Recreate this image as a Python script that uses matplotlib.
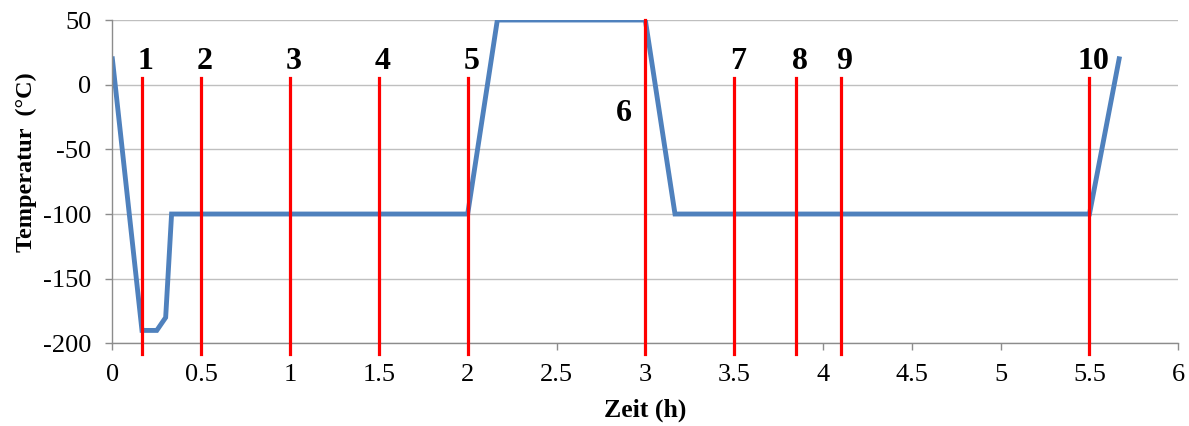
import matplotlib
matplotlib.use("Agg")
from matplotlib import pyplot as plt

# Temperaturverlauf
zeit = [0, 1/6, 0.25, 0.3, 1/3, 2, 2.167, 3, 3.167, 5.5, 5.667]
temp = [20, -190, -190, -180, -100, -100, 50, 50, -100, -100, 20]

# Messpunkte (rote Linien)
mess_x = [1/6, 0.5, 1, 1.5, 2, 3, 3.5, 3.85, 4.1, 5.5]
mess_lbl = ['1', '2', '3', '4', '5', '6', '7', '8', '9', '10']
mess_top = [5, 5, 5, 5, 5, 50, 5, 5, 5, 5]

x_ticks = [0, 0.5, 1, 1.5, 2, 2.5, 3, 3.5, 4, 4.5, 5, 5.5, 6]
x_tick_lbl = ['0', '0.5', '1', '1.5', '2', '2.5', '3', '3.5', '4', '4.5', '5', '5.5', '6']
y_ticks = [-200, -150, -100, -50, 0, 50]

plt.rcParams['font.family'] = ['Liberation Serif', 'DejaVu Serif']
plt.rcParams['axes.unicode_minus'] = False

fig = plt.figure(dpi=100, figsize=(11.89, 4.26))
ax = fig.add_axes([0.0945, 0.194, 0.8965, 0.759])

grid_c = '#BFBFBF'
axis_c = '#8C8C8C'
for y in y_ticks:
    ax.axhline(y, color=grid_c, lw=1, zorder=0)

ax.plot(zeit, temp, color='#4F81BD', lw=3.5, solid_joinstyle='miter', zorder=2)

for x, lbl, top in zip(mess_x, mess_lbl, mess_top):
    ax.plot([x, x], [-208, top], color='#FF0000', lw=2.3, clip_on=False, zorder=3)
    if lbl == '6':
        ax.text(x - 0.12, -22, lbl, ha='center', va='center', fontsize=23, fontweight='bold')
    else:
        ax.text(x + 0.02, 18, lbl, ha='center', va='center', fontsize=23, fontweight='bold')

ax.set_xlim(0, 6)
ax.set_ylim(-200, 50)
ax.set_xticks(x_ticks)
ax.set_xticklabels(x_tick_lbl)
ax.set_yticks(y_ticks)

for s in ['top', 'right']:
    ax.spines[s].set_visible(False)
for s in ['left', 'bottom']:
    ax.spines[s].set_color(axis_c)
    ax.spines[s].set_linewidth(1)

ax.tick_params(axis='both', which='major', labelsize=19, length=5, width=1,
               color=axis_c, direction='out')
ax.tick_params(axis='x', pad=10)
ax.tick_params(axis='y', pad=10)

ax.set_xlabel('Zeit (h)', fontsize=18.5, fontweight='bold', labelpad=9)
ax.set_ylabel('Temperatur  (°C)', fontsize=17.5, fontweight='bold')
ax.yaxis.set_label_coords(-0.071, 0.56)

fig.savefig('out.png', dpi=100)
